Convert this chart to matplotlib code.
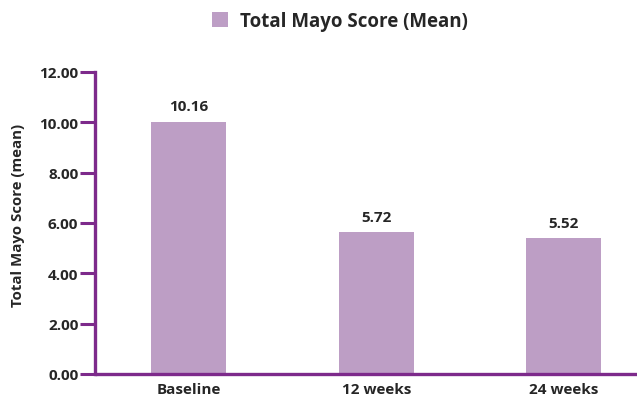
import matplotlib
matplotlib.use("Agg")
import matplotlib.pyplot as plt

categories = ["Baseline", "12 weeks", "24 weeks"]
bar_heights = [10.0, 5.64, 5.40]
value_labels = [10.16, 5.72, 5.52]
y_ticks = [0, 2, 4, 6, 8, 10, 12]
series_name = "Total Mayo Score (Mean)"
y_title = "Total Mayo Score (mean)"

purple = "#7D2A8B"
bar_color = "#BD9EC5"
text_color = "#262626"
plt.rcParams["font.family"] = ["Open Sans", "DejaVu Sans"]

fig = plt.figure(figsize=(6.37, 4.02), dpi=100)
ax = fig.add_axes([95 / 637, 27 / 402, 1 - 95 / 637, (375 - 73) / 402])

x = list(range(len(categories)))
bars = ax.bar(x, bar_heights, width=0.4, color=bar_color, zorder=2)
for xi, v in zip(x, value_labels):
    ax.annotate(f"{v:.2f}", (xi, v), xytext=(0, 4), textcoords="offset points",
                ha="center", va="bottom", fontsize=11, fontweight="bold", color=text_color)

ax.set_xlim(-0.5, 2.39)
ax.set_ylim(0, 12)
ax.set_yticks(y_ticks)
ax.set_yticklabels([f"{t:.2f}" for t in y_ticks], fontsize=11, fontweight="bold", color=text_color)
ax.set_xticks(x)
ax.set_xticklabels(categories, fontsize=11, fontweight="bold", color=text_color)
ax.tick_params(axis="y", length=11, width=2.2, color=purple, pad=1)
ax.tick_params(axis="x", length=0, pad=6)
for s in ["top", "right"]:
    ax.spines[s].set_visible(False)
for s in ["left", "bottom"]:
    ax.spines[s].set_color(purple)
    ax.spines[s].set_linewidth(2.4)
ax.spines["bottom"].set_capstyle("butt")

ax.set_ylabel(y_title, fontsize=10.8, fontweight="bold", color=text_color)
ax.yaxis.set_label_coords(-0.13, 0.527)

fig.legend([bars], [series_name], loc="center", bbox_to_anchor=(340 / 637, 1 - 22 / 402),
           frameon=False, handlelength=0.85, handleheight=0.85, handletextpad=0.6,
           prop={"weight": "bold", "size": 13.5}, labelcolor=text_color)

fig.savefig("out.png", dpi=100)
